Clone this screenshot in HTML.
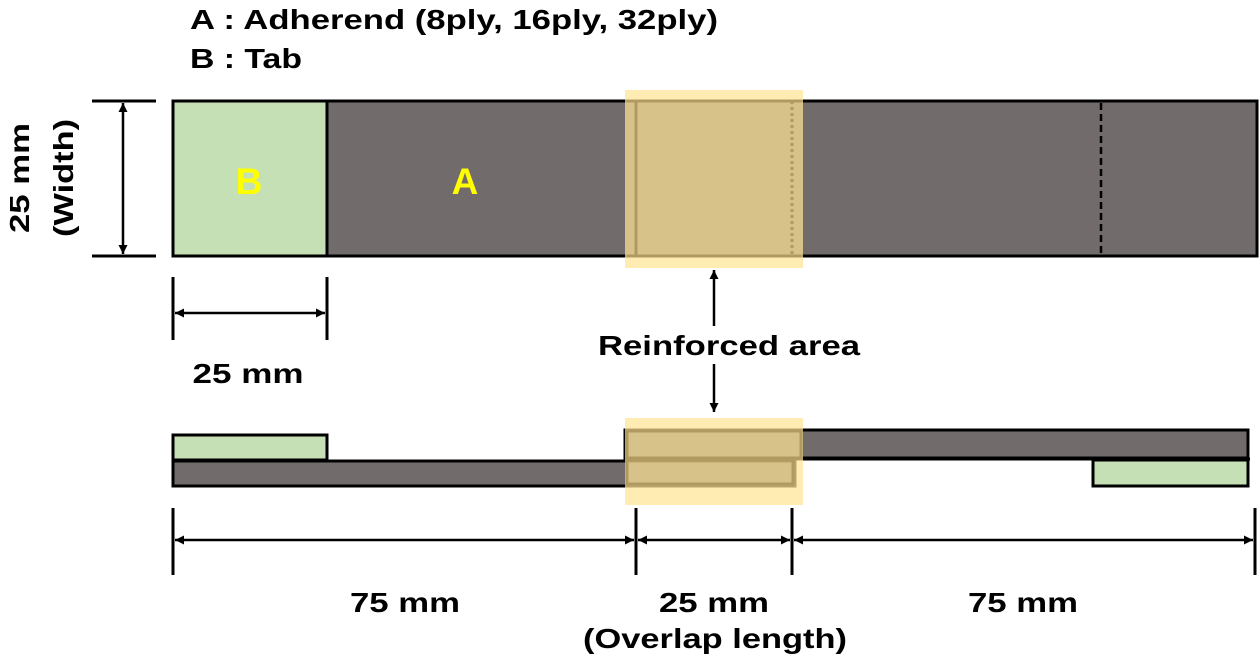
<!DOCTYPE html>
<html><head><meta charset="utf-8"><style>
html,body{margin:0;padding:0;background:#fff;}
svg{display:block;}
text{font-family:"Liberation Sans",Arial,sans-serif;font-weight:bold;fill:#000;}
</style></head><body>
<svg width="1260" height="661" viewBox="0 0 1260 661" xmlns="http://www.w3.org/2000/svg">
<defs>
<marker id="ah" viewBox="0 0 10 10" refX="10" refY="5" markerWidth="9" markerHeight="9" orient="auto-start-reverse" markerUnits="userSpaceOnUse">
<path d="M0,0 L10,5 L0,10 z" fill="#000"/></marker>
</defs>
<text x="190" y="29" font-size="28" textLength="528" lengthAdjust="spacingAndGlyphs">A : Adherend (8ply, 16ply, 32ply)</text>
<text x="190" y="68" font-size="28" textLength="112" lengthAdjust="spacingAndGlyphs">B : Tab</text>

<line x1="92" y1="101" x2="156" y2="101" stroke="#000" stroke-width="3"/>
<line x1="92" y1="256" x2="156" y2="256" stroke="#000" stroke-width="3"/>
<line x1="123" y1="103" x2="123" y2="254" stroke="#000" stroke-width="2.5" marker-start="url(#ah)" marker-end="url(#ah)"/>
<text transform="translate(29,178) rotate(-90)" text-anchor="middle" font-size="28" textLength="110" lengthAdjust="spacingAndGlyphs">25 mm</text>
<text transform="translate(73,178) rotate(-90)" text-anchor="middle" font-size="28" textLength="118" lengthAdjust="spacingAndGlyphs">(Width)</text>

<rect x="173" y="101" width="1084" height="155" fill="#716b6b" stroke="#000" stroke-width="3"/>
<rect x="173" y="101" width="154" height="155" fill="#c5e0b4" stroke="#000" stroke-width="3"/>
<line x1="1101" y1="103" x2="1101" y2="254" stroke="#000" stroke-width="2.5" stroke-dasharray="7,4"/>
<text x="249" y="194" text-anchor="middle" font-size="37" style="fill:#ffff00">B</text>
<text x="465" y="194" text-anchor="middle" font-size="37" style="fill:#ffff00">A</text>
<rect x="625" y="90" width="178" height="178" fill="rgba(255,228,150,0.72)"/>
<line x1="636" y1="101" x2="636" y2="256" stroke="#b09a60" stroke-width="3"/>
<line x1="792" y1="101" x2="792" y2="256" stroke="#b09a60" stroke-width="3" stroke-dasharray="3,3"/>
<line x1="627" y1="101" x2="801" y2="101" stroke="#b09a60" stroke-width="3"/>
<line x1="627" y1="256" x2="801" y2="256" stroke="#b09a60" stroke-width="3"/>

<line x1="173" y1="277" x2="173" y2="340" stroke="#000" stroke-width="3"/>
<line x1="327" y1="277" x2="327" y2="340" stroke="#000" stroke-width="3"/>
<line x1="175" y1="313" x2="325" y2="313" stroke="#000" stroke-width="2.5" marker-start="url(#ah)" marker-end="url(#ah)"/>
<text x="248" y="383" text-anchor="middle" font-size="28" textLength="111" lengthAdjust="spacingAndGlyphs">25 mm</text>

<line x1="714" y1="326" x2="714" y2="270" stroke="#000" stroke-width="2.5" marker-end="url(#ah)"/>
<line x1="714" y1="364" x2="714" y2="412" stroke="#000" stroke-width="2.5" marker-end="url(#ah)"/>
<text x="729" y="355" text-anchor="middle" font-size="28" textLength="262" lengthAdjust="spacingAndGlyphs">Reinforced area</text>

<rect x="173" y="435" width="154" height="25" fill="#c5e0b4" stroke="#000" stroke-width="3"/>
<rect x="173" y="461" width="622" height="25" fill="#716b6b" stroke="#000" stroke-width="3"/>
<rect x="625" y="430" width="623" height="28" fill="#716b6b" stroke="#000" stroke-width="3"/>
<rect x="1093" y="460" width="155" height="26" fill="#c5e0b4" stroke="#000" stroke-width="3"/>
<line x1="795" y1="459" x2="1250" y2="459" stroke="#000" stroke-width="3"/>
<rect x="625" y="418" width="178" height="87" fill="rgba(255,228,150,0.72)"/>
<rect x="627" y="431" width="174" height="27" fill="none" stroke="#b09a60" stroke-width="3"/>
<rect x="627" y="460" width="166" height="24" fill="none" stroke="#b09a60" stroke-width="3"/>

<line x1="173" y1="508" x2="173" y2="575" stroke="#000" stroke-width="3"/>
<line x1="636" y1="508" x2="636" y2="575" stroke="#000" stroke-width="3"/>
<line x1="792" y1="508" x2="792" y2="575" stroke="#000" stroke-width="3"/>
<line x1="1255" y1="508" x2="1255" y2="575" stroke="#000" stroke-width="3"/>
<line x1="175" y1="540" x2="634" y2="540" stroke="#000" stroke-width="2.5" marker-start="url(#ah)" marker-end="url(#ah)"/>
<line x1="638" y1="540" x2="790" y2="540" stroke="#000" stroke-width="2.5" marker-start="url(#ah)" marker-end="url(#ah)"/>
<line x1="794" y1="540" x2="1253" y2="540" stroke="#000" stroke-width="2.5" marker-start="url(#ah)" marker-end="url(#ah)"/>
<text x="405" y="612" text-anchor="middle" font-size="28" textLength="110" lengthAdjust="spacingAndGlyphs">75 mm</text>
<text x="714" y="612" text-anchor="middle" font-size="28" textLength="110" lengthAdjust="spacingAndGlyphs">25 mm</text>
<text x="715" y="648" text-anchor="middle" font-size="28" textLength="264" lengthAdjust="spacingAndGlyphs">(Overlap length)</text>
<text x="1023" y="612" text-anchor="middle" font-size="28" textLength="110" lengthAdjust="spacingAndGlyphs">75 mm</text>
</svg>
</body></html>
